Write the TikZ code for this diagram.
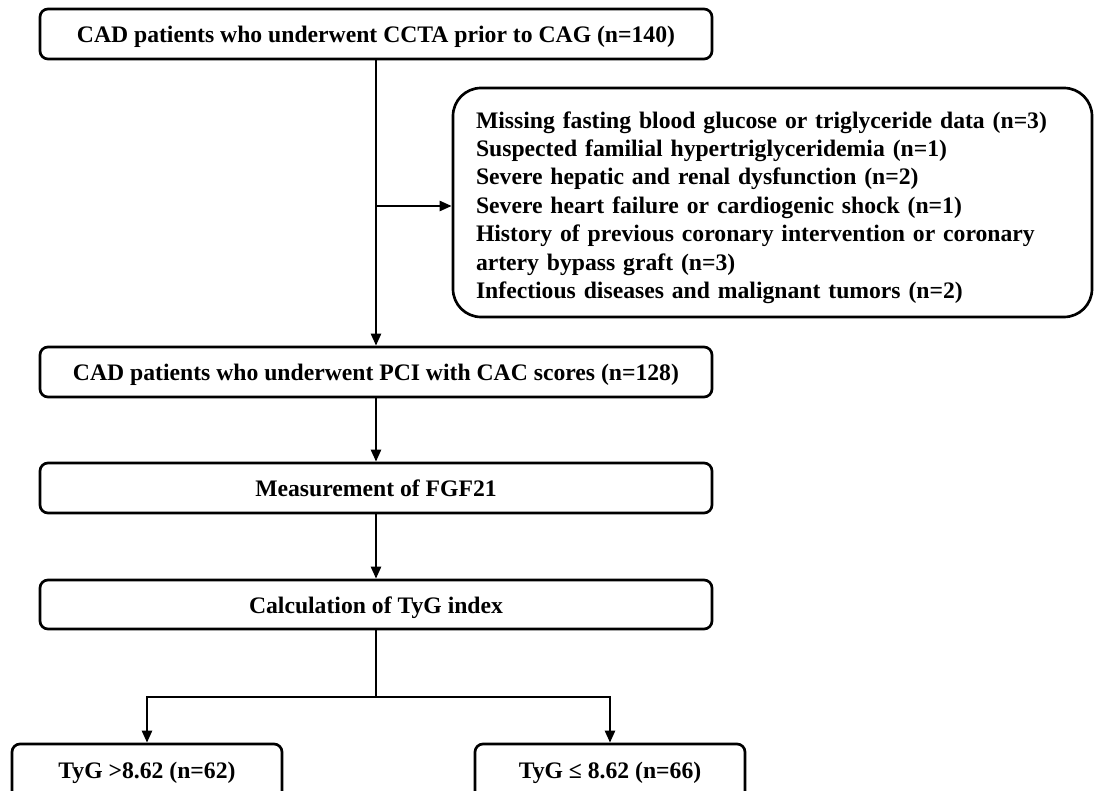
\documentclass[tikz,border=0pt]{standalone}
\usepackage{fontspec}
\setmainfont{Liberation Serif}
\usetikzlibrary{arrows.meta}

\begin{document}
\begin{tikzpicture}[x=0.75pt, y=-0.75pt,
  box/.style={draw, line width=2pt, rounded corners=6pt, minimum width=504pt,
    minimum height=37.5pt, inner sep=0pt,
    font=\fontsize{17.75pt}{21.3pt}\selectfont\bfseries},
  stage/.style={box, text height=13pt, text depth=0pt},
  link/.style={line width=1.8pt, -{Triangle[length=9pt,width=7.5pt]}}]
  \path[use as bounding box, clip] (0,0) rectangle (1096,791);
  \node[stage] (enrol) at (376,34) {CAD patients who underwent CCTA prior to CAG (n=140)};
  \node[box, rounded corners=21pt, minimum width=479.25pt, minimum height=171.75pt,
    text width=444.75pt, inner xsep=17.25pt, align=left] (excl) at (772.5,202.5)
    {\rule{0pt}{20pt}Missing fasting blood glucose or triglyceride data (n=3)\\
     Suspected familial hypertriglyceridemia (n=1)\\
     Severe hepatic and renal dysfunction (n=2)\\
     Severe heart failure or cardiogenic shock (n=1)\\
     History of previous coronary intervention or coronary\\
     artery bypass graft (n=3)\\
     Infectious diseases and malignant tumors (n=2)};
  \node[stage] (pci) at (376,372) {CAD patients who underwent PCI with CAC scores (n=128)};
  \node[stage] (fgf) at (376,488) {Measurement of FGF21};
  \node[stage, minimum height=36.75pt] (tyg) at (376,604.5) {Calculation of TyG index};
  \node[box, minimum width=202.5pt, minimum height=43.5pt] (high) at (147,773) {TyG >8.62 (n=62)};
  \node[box, minimum width=202.5pt, minimum height=43.5pt] (low) at (610,773) {TyG ≤ 8.62 (n=66)};
  \coordinate (cut) at (376,206);
  \coordinate (split) at (376,697);
  \draw[link] (enrol) -- (pci);
  \draw[link] (cut) -- (cut -| excl.west);
  \draw[link] (pci) -- (fgf);
  \draw[link] (fgf) -- (tyg);
  \draw[line width=1.8pt] (tyg) -- (split);
  \draw[link] (split) -| (high);
  \draw[link] (split) -| (low);
\end{tikzpicture}
\end{document}
